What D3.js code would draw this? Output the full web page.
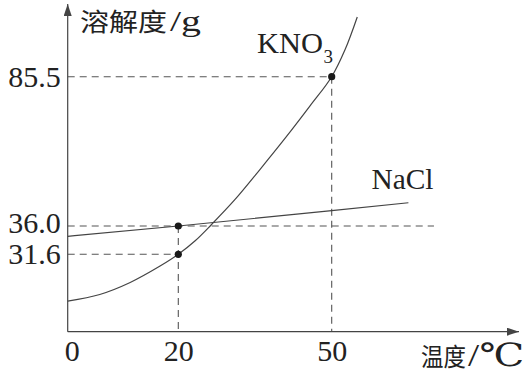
<!DOCTYPE html>
<html>
<head>
<meta charset="utf-8">
<script src="https://cdn.jsdelivr.net/npm/d3@7"></script>
<style>
  html, body { margin: 0; padding: 0; background: #fff; }
  svg { display: block; }
</style>
</head>
<body>
<svg id="chart" width="528" height="372"></svg>
<script>
// ---- data ----
const xTicks = [0, 20, 50];
const yTicks = [31.6, 36.0, 85.5];
const yTickLabels = ["31.6", "36.0", "85.5"];

const kno3Temp = [0, 5.8, 11.3, 16.7, 20, 23.3, 26.5, 31.1, 36.0, 40.9, 45.8, 50, 52.6, 55.0];
const kno3Sol  = [12.5, 15.2, 20.1, 26.8, 31.6, 33.7, 36.5, 44.8, 54.8, 65.1, 75.9, 85.5, 94.4, 105.3];

const naclTemp = [0, 20, 50, 65];
const naclSol  = [34.4, 36.0, 41.1, 43.7];

const markTemp = [20, 20, 50];
const markSol  = [31.6, 36.0, 85.5];
const hGuideEnd = [20, 70, 50];   // temperature where each horizontal guide ends

const yTitle = "溶解度";
const yUnit = "/g";
const xTitle = "温度";
const xUnit = "/℃";
const kLabel = "KNO";
const kSub = "3";
const nLabel = "NaCl";

// ---- scales (schematic chart, piecewise linear) ----
const x = d3.scaleLinear().domain([0, 20, 50]).range([67.7, 178.3, 331.7]);
const y = d3.scaleLinear().domain([0, 31.6, 36, 85.5]).range([331.7, 254.3, 226, 76.7]);

const svg = d3.select("#chart");
const ink = "#444";
const txt = "#222";
const serif = "Liberation Serif, DejaVu Serif, serif";
const cjk = "Noto Sans CJK SC, sans-serif";

// dashed guides
const g = svg.append("g").attr("stroke", "#555").attr("stroke-width", 1.1)
  .attr("stroke-dasharray", "7,5").attr("fill", "none");
markSol.forEach((s, i) => {
  g.append("line").attr("x1", x(0)).attr("x2", x(hGuideEnd[i]))
    .attr("y1", y(s)).attr("y2", y(s));
});
[20, 50].forEach(t => {
  const top = d3.max(markSol.filter((s, i) => markTemp[i] === t));
  g.append("line").attr("x1", x(t)).attr("x2", x(t))
    .attr("y1", y(top)).attr("y2", y(0));
});

// curves
const kData = kno3Temp.map((t, i) => [t, kno3Sol[i]]);
const nData = naclTemp.map((t, i) => [t, naclSol[i]]);
svg.append("path")
  .attr("d", d3.line().x(d => x(d[0])).y(d => y(d[1])).curve(d3.curveCatmullRom.alpha(0.5))(kData))
  .attr("fill", "none").attr("stroke", ink).attr("stroke-width", 1.2);
svg.append("path")
  .attr("d", d3.line().x(d => x(d[0])).y(d => y(d[1])).curve(d3.curveMonotoneX)(nData))
  .attr("fill", "none").attr("stroke", ink).attr("stroke-width", 1.2);

// marks
svg.selectAll("circle.mark").data(markTemp).enter().append("circle")
  .attr("class", "mark")
  .attr("cx", d => x(d)).attr("cy", (d, i) => y(markSol[i]))
  .attr("r", 3.6).attr("fill", "#1a1a1a");

// axes lines with arrows
const defs = svg.append("defs");
defs.append("marker").attr("id", "arr").attr("viewBox", "0 0 12 8")
  .attr("refX", 12).attr("refY", 4).attr("markerWidth", 12).attr("markerHeight", 8)
  .attr("markerUnits", "userSpaceOnUse").attr("orient", "auto")
  .append("path").attr("d", "M0,0 L12,4 L0,8 Z").attr("fill", ink);

svg.append("line").attr("x1", x(0)).attr("y1", y(0)).attr("x2", 519).attr("y2", y(0))
  .attr("stroke", ink).attr("stroke-width", 1.2).attr("marker-end", "url(#arr)");
svg.append("line").attr("x1", x(0)).attr("y1", y(0)).attr("x2", x(0)).attr("y2", 4)
  .attr("stroke", ink).attr("stroke-width", 1.2).attr("marker-end", "url(#arr)");

// tick labels via d3 axes
const xAxis = d3.axisBottom(x).tickValues(xTicks).tickSize(0).tickPadding(8)
  .tickFormat(d3.format("d"));
const xg = svg.append("g").attr("transform", `translate(0,${y(0)})`).call(xAxis);
xg.select(".domain").remove();
xg.selectAll("text").attr("font-size", 30).attr("fill", txt).attr("font-family", serif)
  .attr("dx", d => d === 0 ? 4 : 0);
xg.attr("font-family", null).attr("font-size", null);

const yAxis = d3.axisLeft(y).tickValues(yTicks).tickSize(0).tickPadding(7)
  .tickFormat((d, i) => yTickLabels[i]);
const yg = svg.append("g").attr("transform", `translate(${x(0)},0)`).call(yAxis);
yg.select(".domain").remove();
yg.selectAll("text").attr("font-size", 30).attr("fill", txt).attr("font-family", serif)
  .attr("dy", d => d === 36 ? "0.2em" : "0.32em");
yg.attr("font-family", null).attr("font-size", null);

// helper for fitted text
function label(str, px, py, size, family, len) {
  const t = svg.append("text").attr("x", px).attr("y", py)
    .attr("font-size", size).attr("font-family", family).attr("fill", txt).text(str);
  if (len) t.attr("textLength", len).attr("lengthAdjust", "spacingAndGlyphs");
  return t;
}

// axis titles
label(yTitle, 80, 31, 25, cjk, 87);
label(yUnit, 170, 31, 30, serif, 31);
label(xTitle, 421, 366, 25, cjk, 45);
label(xUnit, 468, 366, 32, serif, 56).attr("font-weight", 300);

// series labels
label(kLabel, 257, 52.5, 30, serif, 66);
label(kSub, 323.5, 63, 19, serif);
label(nLabel, 371.5, 188.5, 30, serif, 62);
</script>
</body>
</html>
